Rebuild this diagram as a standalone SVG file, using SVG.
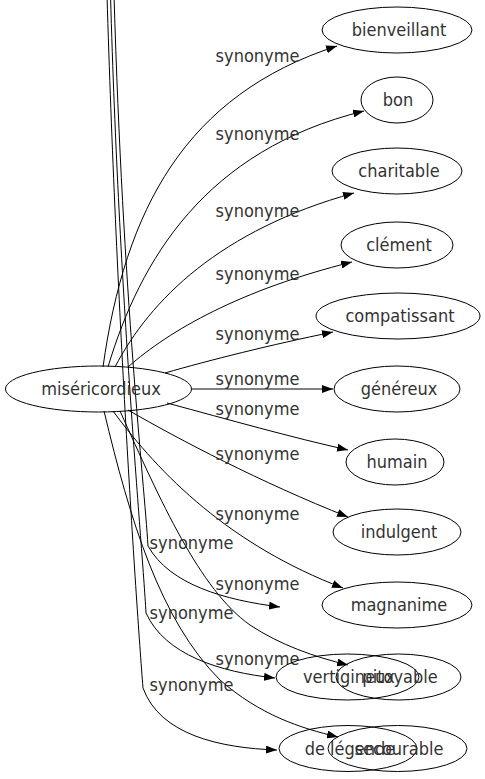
<svg xmlns="http://www.w3.org/2000/svg" width="485" height="779" viewBox="0 0 485 779">
<style>
.n ellipse{fill:none;stroke:#000;stroke-width:1}
text{font-family:"DejaVu Sans Condensed","DejaVu Sans",sans-serif;font-stretch:condensed;font-size:18px;fill:#333;text-anchor:middle}
.e path{fill:none;stroke:#000;stroke-width:1;marker-end:url(#a)}
</style>
<defs>
<marker id="a" markerUnits="userSpaceOnUse" markerWidth="11" markerHeight="8" refX="11" refY="4" orient="auto"><path d="M0,0 L11,4 L0,8 z" fill="#000"/></marker>
</defs>
<rect width="485" height="779" fill="#fff"/>
<g id="edges" class="e">
<path d="M103,367 C125,210 185,95 337,46"/>
<path d="M108,367 C140,260 205,150 364,111"/>
<path d="M115,367 C150,300 220,230 354,193"/>
<path d="M128,367 C170,330 240,290 352,262"/>
<path d="M165,373 C210,360 270,345 333,332"/>
<path d="M192,389 L333,389"/>
<path d="M167,403 C230,420 290,437 348,450"/>
<path d="M128,410 C180,440 260,482 348,517"/>
<path d="M113,411 C160,475 230,545 343,588"/>
<path d="M107,-5 C116,300 136,600 143,688 C160,735 220,748 277,750"/>
<path d="M110.5,-5 C119,300 142,540 146,613 C165,655 220,672 275,678"/>
<path d="M114,-5 C123,300 144,480 148,546 C170,585 225,600 280,607"/>
<path d="M120,411 C160,500 200,590 250,625 C280,645 315,657 348,665"/>
<path d="M104,411 C130,520 160,620 220,680 C260,715 300,728 338,737"/>
</g>
<g id="labels">
<text x="257.5" y="61.5">synonyme</text>
<text x="257.5" y="139.5">synonyme</text>
<text x="257.5" y="216.5">synonyme</text>
<text x="257.5" y="279.5">synonyme</text>
<text x="257.5" y="339.5">synonyme</text>
<text x="257.5" y="384.5">synonyme</text>
<text x="257.5" y="414.5">synonyme</text>
<text x="257.5" y="459.5">synonyme</text>
<text x="257.5" y="519.5">synonyme</text>
<text x="191.5" y="548.5">synonyme</text>
<text x="257.5" y="589.5">synonyme</text>
<text x="191.5" y="619">synonyme</text>
<text x="257.5" y="664.5">synonyme</text>
<text x="191.5" y="691">synonyme</text>
</g>
<g id="misericordieux" class="n"><ellipse cx="98.5" cy="389" rx="93" ry="23"/><text x="101" y="395">miséricordieux</text></g>
<g id="bienveillant" class="n"><ellipse cx="397" cy="30" rx="75" ry="23"/><text x="399" y="36">bienveillant</text></g>
<g id="bon" class="n"><ellipse cx="397" cy="100" rx="36" ry="23"/><text x="398" y="106">bon</text></g>
<g id="charitable" class="n"><ellipse cx="397" cy="171" rx="65" ry="23"/><text x="399" y="177">charitable</text></g>
<g id="clement" class="n"><ellipse cx="397" cy="245" rx="56" ry="23"/><text x="399" y="251">clément</text></g>
<g id="compatissant" class="n"><ellipse cx="398" cy="316" rx="82" ry="23"/><text x="400" y="322">compatissant</text></g>
<g id="genereux" class="n"><ellipse cx="397" cy="389" rx="63" ry="23"/><text x="399" y="395">généreux</text></g>
<g id="humain" class="n"><ellipse cx="395" cy="462" rx="49" ry="23"/><text x="397" y="468">humain</text></g>
<g id="indulgent" class="n"><ellipse cx="397" cy="532" rx="64" ry="23"/><text x="399" y="538">indulgent</text></g>
<g id="magnanime" class="n"><ellipse cx="397" cy="605" rx="75" ry="23"/><text x="399" y="611">magnanime</text></g>
<g id="vertigineux" class="n"><ellipse cx="347.5" cy="677" rx="71.5" ry="23"/><text x="349" y="683">vertigineux</text></g>
<g id="pitoyable" class="n"><ellipse cx="398.5" cy="677" rx="62.5" ry="23"/><text x="400" y="683">pitoyable</text></g>
<g id="de-legende" class="n"><ellipse cx="348" cy="748.5" rx="69" ry="23"/><text x="350" y="754.5">de légende</text></g>
<g id="secourable" class="n"><ellipse cx="397.5" cy="748.5" rx="69.5" ry="23"/><text x="399" y="754.5">secourable</text></g>
</svg>
